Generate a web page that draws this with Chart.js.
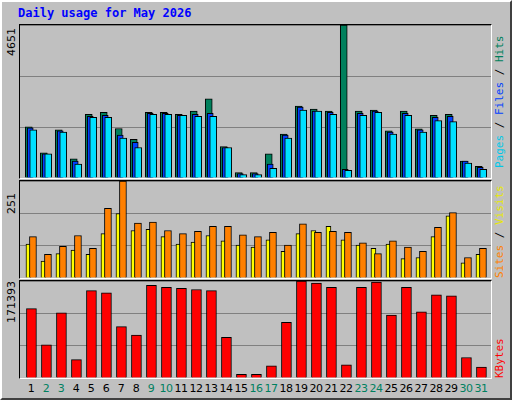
<!DOCTYPE html>
<html><head><meta charset="utf-8">
<script src="https://cdn.jsdelivr.net/npm/chart.js@4"></script>
<style>
html,body{margin:0;padding:0;background:#fff;}
#frame{position:absolute;left:0;top:0;width:508px;height:396px;background:#c0c0c0;border:2px solid;border-color:#fff #404040 #404040 #fff;}
.panel{position:absolute;left:19px;width:471px;border:1px solid;border-color:#000 #fff #fff #000;background:#c0c0c0;}
.panel canvas{position:absolute;left:0;top:0;}
.t{position:absolute;font-family:"DejaVu Sans Mono",monospace;font-size:11px;white-space:nowrap;}
.rot{transform-origin:0 0;transform:rotate(-90deg);}
.xl{position:absolute;top:382px;font-family:"DejaVu Sans",sans-serif;font-size:11px;width:16px;text-align:center;letter-spacing:-0.5px;}
</style></head><body>
<div id="frame"></div>
<div class="t" style="left:18px;top:6px;color:#0000ff;font-weight:bold;font-size:12px">Daily usage for May 2026</div>
<div class="panel" style="top:24px;height:153px"><canvas id="c1"></canvas></div>
<div class="panel" style="top:180px;height:97px"><canvas id="c2"></canvas></div>
<div class="panel" style="top:280px;height:97px"><canvas id="c3"></canvas></div>
<div class="t rot" style="left:5px;top:56px;font-family:'DejaVu Sans',sans-serif;font-size:11px">4651</div>
<div class="t rot" style="left:5px;top:214px;font-family:'DejaVu Sans',sans-serif;font-size:11px">251</div>
<div class="t rot" style="left:5px;top:323px;font-family:'DejaVu Sans',sans-serif;font-size:11px">171393</div>
<div class="t rot" style="left:493px;top:168px"><span style="color:#00c8e8">Pages</span> / <span style="color:#0040ff">Files</span> / <span style="color:#00805c">Hits</span></div>
<div class="t rot" style="left:493px;top:278px"><span style="color:#ff8000">Sites</span> / <span style="color:#e8e800">Visits</span></div>
<div class="t rot" style="left:493px;top:378px"><span style="color:#ff0000">KBytes</span></div>
<div id="xl"></div>
<script>
const days=[1,2,3,4,5,6,7,8,9,10,11,12,13,14,15,16,17,18,19,20,21,22,23,24,25,26,27,28,29,30,31];
const weekend=[2,3,9,10,16,17,23,24,30,31];
const hits=[1557,768,1462,579,1936,1999,1505,1178,1999,1999,1936,2031,2409,957,168,168,736,1336,2188,2094,2031,4651,2031,2062,1431,2031,1494,1904,1936,515,358];
const files=[1525,736,1431,515,1873,1904,1304,1084,1967,1967,1904,1936,1967,926,137,137,421,1304,2157,2031,1999,263,1967,2031,1399,1967,1462,1841,1873,515,326];
const pages=[1462,736,1399,421,1841,1841,1210,926,1936,1936,1904,1873,1873,926,105,105,295,1210,2062,2031,1936,231,1904,1999,1336,1904,1399,1746,1715,452,263];
const visits=[88,44,63,72,61,115,167,123,126,107,88,93,110,96,85,80,99,69,115,123,134,99,85,77,88,50,53,107,161,39,61];
const sites=[107,61,82,110,77,180,251,142,145,123,115,121,134,134,112,107,118,85,140,118,121,118,91,63,96,80,69,131,169,53,77];
const kbytes=[122600,58800,115100,32500,154500,150700,90700,75700,163900,160100,158300,156400,154500,71900,6300,6300,21300,98200,171393,167600,160100,23100,160100,169500,111300,160100,117000,147000,145100,36300,19400];
const maxima=[4651,251,171393];

const xmin=0.267,xmax=31.667;
const xl=document.getElementById('xl');
days.forEach(d=>{const e=document.createElement('div');e.className='xl';
 e.style.left=(20+(d-xmin)/(xmax-xmin)*471-8)+'px';e.style.color=weekend.includes(d)?'#008060':'#000';e.textContent=d;xl.appendChild(e);});

function ds(vals,off,w,color){return{data:vals.map((v,i)=>({x:days[i]+off,y:v})),backgroundColor:color,borderColor:'#000',borderWidth:1,barThickness:w,grouped:false,borderSkipped:'bottom'};}
function mk(id,h,sets,max){const c=document.getElementById(id);c.width=471;c.height=h;
 new Chart(c,{type:'bar',data:{datasets:sets},options:{responsive:false,animation:false,
  layout:{padding:0},plugins:{legend:{display:false},tooltip:{enabled:false}},
  scales:{x:{type:'linear',min:xmin,max:xmax,offset:false,display:false},
   y:{min:0,max:max,afterBuildTicks:a=>{a.ticks=[0,max/3,2*max/3,max].map(v=>({value:v}));},
    ticks:{display:false},border:{display:false},grid:{color:'#808080',lineWidth:1,drawTicks:false}}}}});}
// first dataset is drawn on top
mk('c1',153,[ds(pages,0.15,7,'#00e0ff'),ds(files,-0.05,6,'#0040ff'),ds(hits,-0.15,7,'#00805c')],maxima[0]);
mk('c2',97,[ds(sites,0.13,7,'#ff8000'),ds(visits,-0.17,5,'#ffff00')],maxima[1]);
mk('c3',97,[ds(kbytes,0.03,10,'#ff0000')],maxima[2]);
</script>
</body></html>
